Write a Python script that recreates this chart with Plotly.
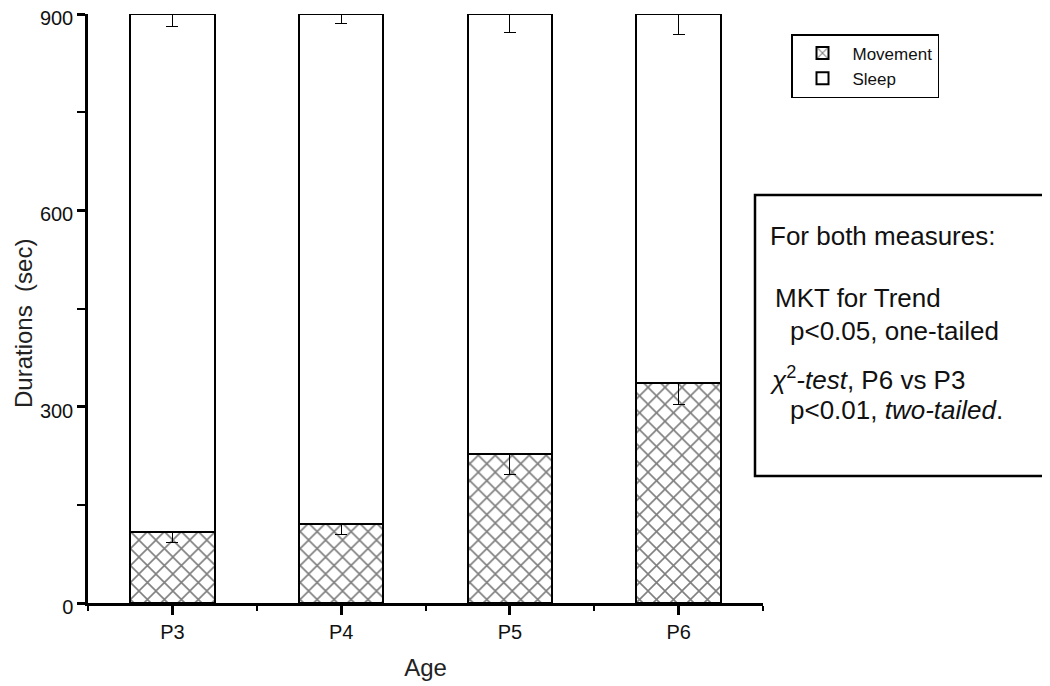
import plotly.graph_objects as go

ages = ["P3", "P4", "P5", "P6"]
movement = [108, 120, 227, 336]
movement_err = [16, 15, 30, 32]
sleep = [792, 780, 673, 564]
sleep_err = [19, 15, 29, 32]
y_ticks = [0, 300, 600, 900]

xpos = list(range(len(ages)))
FONT = "Liberation Sans, Arial, sans-serif"

# page body has an 8px margin: window px = figure px + 8
OFF = 8
T = 6                       # top margin inside figure
PLOT_TOP = OFF + T          # window y of the top of the plot area
PLOT_BOT = 603              # window y of the x axis
PLOT_L, PLOT_R = 88, 763

fig = go.Figure()
fig.add_trace(go.Bar(
    x=xpos, y=movement, name="Movement", width=0.5,
    marker=dict(color="white", line=dict(color="black", width=2),
                pattern=dict(shape="x", fgcolor="black", bgcolor="white", size=12, solidity=0.25)),
    error_y=dict(type="data", symmetric=False, array=[0] * len(ages), arrayminus=movement_err,
                 color="black", thickness=1, width=6),
))
fig.add_trace(go.Bar(
    x=xpos, y=sleep, name="Sleep", width=0.5,
    marker=dict(color="white", line=dict(color="black", width=2)),
    error_y=dict(type="data", symmetric=False, array=[0] * len(ages), arrayminus=sleep_err,
                 color="black", thickness=1, width=6),
))

def px_x(x):
    return (x - PLOT_L) / float(PLOT_R - PLOT_L)

def px_y(y):
    return (PLOT_BOT - y) / float(PLOT_BOT - PLOT_TOP)

fig.update_layout(
    barmode="stack",
    width=1050, height=686,
    margin=dict(l=PLOT_L - OFF, r=1050 - (PLOT_R - OFF), t=T, b=686 - (PLOT_BOT - OFF),
                autoexpand=False),
    paper_bgcolor="white", plot_bgcolor="white",
    font=dict(family=FONT, color="#111"),
    showlegend=True,
    legend=dict(x=px_x(791), y=px_y(34), xanchor="left", yanchor="top",
                traceorder="normal", bordercolor="black", borderwidth=1.5,
                font=dict(size=17, family=FONT, color="#111"), bgcolor="white",
                tracegroupgap=0, itemwidth=50),
)
fig.update_xaxes(
    range=[-0.5, 3.5], tickmode="array", tickvals=xpos, ticktext=ages,
    automargin=False,
    showline=True, linecolor="black", linewidth=2.5, mirror=False,
    ticks="outside", ticklen=9, tickwidth=2.5, tickcolor="black",
    tickfont=dict(size=20, family=FONT, color="#111"),
    showgrid=False, zeroline=False,
    minor=dict(tickmode="linear", tick0=0.5, dtick=1, ticks="outside", ticklen=5,
               tickwidth=2, tickcolor="black", showgrid=False),
    title=dict(text="Age", font=dict(size=24, family=FONT, color="#222"), standoff=18),
)
fig.update_yaxes(
    range=[0, 900], tickmode="array", tickvals=y_ticks,
    automargin=False, ticklabeloverflow="allow", ticklabelshift=4,
    showline=True, linecolor="black", linewidth=2.5,
    ticks="outside", ticklen=8, tickwidth=2.5, tickcolor="black",
    tickfont=dict(size=20, family=FONT, color="#111"),
    showgrid=False, zeroline=False,
    minor=dict(tickmode="linear", tick0=150, dtick=300, ticks="outside", ticklen=8,
               tickwidth=2, tickcolor="black", showgrid=False),
)

# y-axis title
fig.add_annotation(xref="paper", yref="paper", x=px_x(23), y=px_y(324),
                   xanchor="center", yanchor="middle", textangle=-90,
                   text="Durations  (sec)", showarrow=False,
                   font=dict(size=24, family=FONT, color="#222"))

fig.add_shape(type="rect", xref="paper", yref="paper",
              x0=px_x(755), x1=px_x(1045), y0=px_y(476), y1=px_y(195),
              line=dict(color="black", width=2.5), fillcolor="rgba(0,0,0,0)")

lines = [
    (768, 236, "For both measures:"),
    (773, 298, "MKT for Trend"),
    (788, 331, "p&lt;0.05, one-tailed"),
    (768, 378, "<i>χ</i><sup>2</sup><i>-test</i>, P6 vs P3"),
    (788, 410, "p&lt;0.01, <i>two-tailed</i>."),
]
for x, y, t in lines:
    fig.add_annotation(xref="paper", yref="paper", x=px_x(x), y=px_y(y),
                       xanchor="left", yanchor="middle", text=t, showarrow=False,
                       font=dict(size=26, family=FONT, color="#111"))

fig.write_html("out.html")
